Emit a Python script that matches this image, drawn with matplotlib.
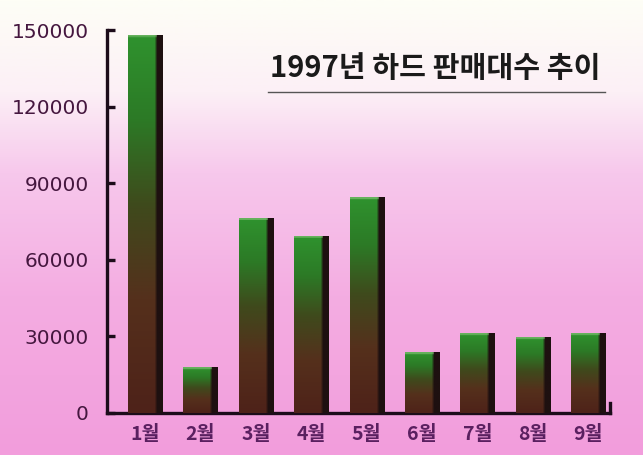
import numpy as np
import matplotlib
matplotlib.use("Agg")
import matplotlib.pyplot as plt
from matplotlib.colors import LinearSegmentedColormap, to_rgb
from matplotlib.lines import Line2D

plt.rcParams['font.family'] = ['Noto Sans CJK KR', 'DejaVu Sans']

months = ['1월', '2월', '3월', '4월', '5월', '6월', '7월', '8월', '9월']
sales = [148000, 18000, 76000, 69000, 84500, 23500, 31000, 29500, 31000]
yticks = [0, 30000, 60000, 90000, 120000, 150000]
title = '1997년 하드 판매대수 추이'

W, H = 643, 455
fig = plt.figure(figsize=(W / 100, H / 100), dpi=100)

# background gradient
bg = fig.add_axes([0, 0, 1, 1])
bg.set_axis_off()
bg_cmap = LinearSegmentedColormap.from_list('bg', [
    (0.0, '#f29ddc'), (0.35, '#f4ade2'), (0.62, '#f7c8ec'),
    (0.80, '#fcf0f6'), (1.0, '#fefef6')])
grad = np.linspace(0, 1, 256).reshape(-1, 1)
bg.imshow(grad, cmap=bg_cmap, aspect='auto', origin='lower', extent=[0, 1, 0, 1])
bg.set_xlim(0, 1); bg.set_ylim(0, 1)

ax = fig.add_axes([107 / W, 42 / H, 503 / W, 383 / H])
ax.patch.set_alpha(0)
x = np.arange(len(months))
bars = ax.bar(x, sales, width=0.62, color='none', edgecolor='none', zorder=2)

bar_cmap = LinearSegmentedColormap.from_list('bar', [
    (0.0, '#4e2219'), (0.3, '#55301c'), (0.55, '#3f4a1c'),
    (0.78, '#2c7a26'), (1.0, '#2f922e')])
ny, nx = 200, 40
dark = np.array(to_rgb('#1e1010'))
light = np.array(to_rgb('#8cc87e'))
for rect in bars:
    x0, w, h = rect.get_x(), rect.get_width(), rect.get_height()
    t = np.linspace(0, 1, ny)
    col = bar_cmap(t)[:, :3]
    img = np.repeat(col[:, None, :], nx, axis=1)
    # dark right edge (soft transition)
    edge = int(nx * 0.84)
    for k in range(edge - 2, nx):
        a = min(1.0, (k - edge + 3) / 3)
        img[:, k, :] = img[:, k, :] * (1 - a) + dark * a
    # light top highlight (about 2 px)
    px_h = h / 150000 * 383
    nh = max(1, int(round(ny * 2 / max(px_h, 1))))
    img[-nh:, :edge, :] = img[-nh:, :edge, :] * 0.4 + light * 0.6
    ax.imshow(img, origin='lower', aspect='auto',
              extent=[x0, x0 + w, 0, h], zorder=3, interpolation='bilinear')

ax.set_xlim(-0.686, 8.39)
ax.set_ylim(0, 150000)

spine_col = '#1c0c1a'
ax.spines['top'].set_visible(False)
for s in ['left', 'bottom', 'right']:
    ax.spines[s].set_linewidth(2.4)
    ax.spines[s].set_color(spine_col)
ax.spines['right'].set_bounds(0, 4000)

ax.set_yticks(yticks)
ax.set_yticklabels([str(v) for v in yticks], color='#45173f', fontsize=14.5,
                   family=['DejaVu Sans'])
ax.tick_params(axis='y', direction='in', length=6, width=2.4, color=spine_col, pad=13)
ax.set_xticks(x)
ax.set_xticklabels(months, color='#5a2060', fontsize=14, fontweight='bold')
ax.tick_params(axis='x', length=0, pad=9)

fig.text(435 / W, 1 - 68 / H, title, ha='center', va='center', fontsize=21,
         fontweight='bold', color='#1a1a1a')
fig.add_artist(Line2D([268 / W, 605 / W], [1 - 92 / H, 1 - 92 / H],
                      color='#555555', lw=1.0))

fig.savefig('out.png', dpi=100)
